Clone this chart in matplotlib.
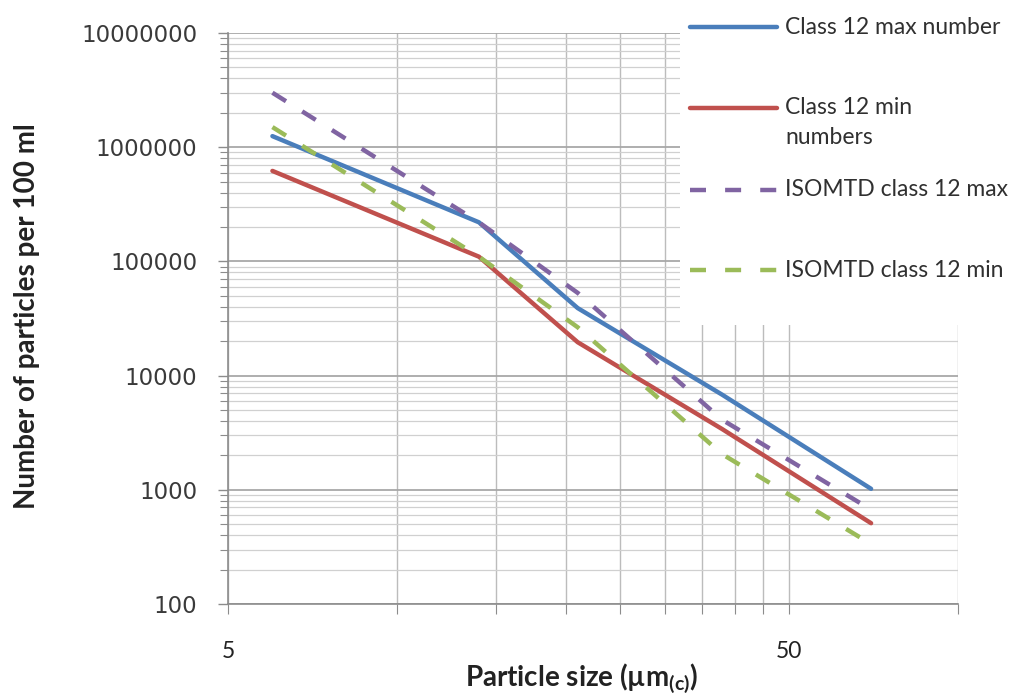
import matplotlib
matplotlib.use("Agg")
import matplotlib.pyplot as plt
from matplotlib.lines import Line2D
from matplotlib.patches import Rectangle
from matplotlib.ticker import FixedLocator, FuncFormatter, LogLocator, NullFormatter

# particle sizes (um(c)) and cumulative counts per 100 ml
sizes = [6, 14, 21, 38, 70]
class12_max = [1.25e6, 2.2e5, 3.9e4, 6.8e3, 1.02e3]
class12_min = [6.2e5, 1.1e5, 1.96e4, 3.4e3, 510]
isomtd_max = [3.0e6, 2.2e5, 5.3e4, 4.1e3, 670]
isomtd_min = [1.5e6, 1.1e5, 2.65e4, 2.05e3, 335]

labels = ["Class 12 max number", "Class 12 min\nnumbers",
          "ISOMTD class 12 max", "ISOMTD class 12 min"]
colors = ["#4a7ebb", "#c0504d", "#8064a2", "#9bbb59"]
dashed = [False, False, True, True]
series = [class12_max, class12_min, isomtd_max, isomtd_min]

W, H = 1014, 697
plt.rcParams["mathtext.default"] = "regular"
fig = plt.figure(figsize=(W / 100, H / 100), dpi=100)
ax = fig.add_axes([228 / W, 1 - 604 / H, 730 / W, 571 / H])

for vals, c, d in zip(series, colors, dashed):
    kw = dict(dashes=(3.6, 4.3)) if d else {}
    ax.plot(sizes, vals, color=c, lw=3.2, zorder=3,
            solid_capstyle="round", solid_joinstyle="round", **kw)

ax.set_xscale("log")
ax.set_yscale("log")
ax.set_xlim(5, 100)
ax.set_ylim(100, 1e7)

# excel-style log axis starting at 5: majors 5, 50; minors every 5 then 100
ax.xaxis.set_major_locator(FixedLocator([5, 50]))
ax.xaxis.set_minor_locator(FixedLocator([10, 15, 20, 25, 30, 35, 40, 45, 100]))
ax.xaxis.set_major_formatter(FuncFormatter(lambda v, p: f"{v:g}"))
ax.xaxis.set_minor_formatter(NullFormatter())
ax.yaxis.set_major_locator(LogLocator(base=10))
ax.yaxis.set_minor_locator(LogLocator(base=10, subs=range(2, 10)))
ax.yaxis.set_major_formatter(FuncFormatter(lambda v, p: f"{int(round(v))}"))
ax.yaxis.set_minor_formatter(NullFormatter())

ax.grid(True, axis="x", which="both", color="#bcbcbc", lw=1.0)
ax.grid(True, axis="y", which="major", color="#a8a8a8", lw=1.3)
ax.grid(True, axis="y", which="minor", color="#d0d0d0", lw=0.9)

for s in ["top", "right"]:
    ax.spines[s].set_visible(False)
for s in ["left", "bottom"]:
    ax.spines[s].set_color("#8c8c8c")
    ax.spines[s].set_linewidth(1.2)

ax.tick_params(axis="y", which="major", length=7, width=1, color="#8c8c8c",
               pad=15, labelsize=16.5, labelcolor="#3a3a3a")
ax.tick_params(axis="y", which="minor", length=5.5, width=0.8, color="#8c8c8c")
ax.tick_params(axis="x", which="both", length=7, width=0.8, color="#8c8c8c",
               pad=20, labelsize=16.5, labelcolor="#222222")
for t in ax.get_yticklabels():
    t.set_fontfamily("DejaVu Sans")
for t in ax.get_xticklabels():
    t.set_fontfamily("Lato")

ax.set_xlabel("Particle size (µm$_{(c)}$)", fontfamily="Lato", fontweight="bold",
              fontsize=20, color="#222222")
ax.xaxis.set_label_coords(354 / 730, (604 - 662) / 571)
ax.set_ylabel("Number of particles per 100 ml", fontfamily="Lato",
              fontweight="bold", fontsize=20, color="#222222")
ax.yaxis.set_label_coords(-188 / 730, (604 - 316) / 571)

# legend panel sits over the top-right of the plot area
ax.add_patch(Rectangle((680 / W, 1 - 325 / H), 1 - 680 / W, 325 / H,
                       transform=fig.transFigure, facecolor="white",
                       edgecolor="none", zorder=2, clip_on=False))
legend_y = [27, 108, 190, 270]
for lab, c, d, yp in zip(labels, colors, dashed, legend_y):
    yf = 1 - yp / H
    kw = dict(dashes=(3.6, 4.3)) if d else {}
    fig.add_artist(Line2D([690 / W, 777 / W], [yf, yf], color=c, lw=3.2,
                          solid_capstyle="round", **kw))
    for i, line in enumerate(lab.split("\n")):
        fig.text(785 / W, 1 - (yp + 30 * i) / H, line, fontfamily="Lato",
                 fontsize=16.5, color="#303030", va="center", ha="left")

fig.savefig("out.png", dpi=100)
